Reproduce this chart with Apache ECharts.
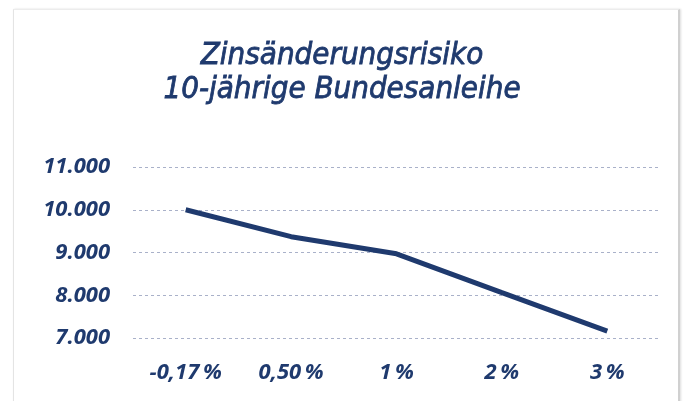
<!DOCTYPE html>
<html><head><meta charset="utf-8">
<script src="https://cdn.jsdelivr.net/npm/echarts@6/dist/echarts.min.js"></script>
<style>
html,body{margin:0;padding:0;background:#fff;width:684px;height:401px;overflow:hidden}
#frame{position:absolute;left:13px;top:9px;width:664px;height:420px;border-left:1px solid #e4e4e4;border-top:1px solid #ececec;border-right:2px solid #d0d0d0;box-shadow:1px 0 2px #ddd}
#c{position:absolute;left:0;top:0;width:684px;height:401px}
</style></head>
<body><div id="frame"></div><div id="c"></div>
<script>
const titleLines = ['Zinsänderungsrisiko', '10-jährige Bundesanleihe'];
const categories = ['-0,17%', '0,50%', '1%', '2%', '3%'];
const values = [10000, 9370, 8970, 8060, 7160];
const yMin = 7000, yMax = 11000, yStep = 1000;

const navy = '#1f3a6e';
const chart = echarts.init(document.getElementById('c'));
chart.setOption({
  animation: false,
  title: {
    text: titleLines.join('\n'),
    left: 'center', top: 34,
    textStyle: {fontFamily: 'DejaVu Sans Condensed', fontStyle: 'italic', fontWeight: 'normal', fontSize: 31, lineHeight: 34, color: navy,
      textBorderColor: navy, textBorderWidth: 0.8}
  },
  grid: {left: 133, right: 24, top: 167, bottom: 63},
  xAxis: {
    type: 'category', data: categories, boundaryGap: true,
    axisLine: {show: false}, axisTick: {show: false},
    axisLabel: {margin: 24, fontFamily: 'Open Sans', fontStyle: 'italic', fontWeight: 'bold', fontSize: 22, color: navy,
      formatter: v => v.replace('%', '\u2009%')}
  },
  yAxis: {
    type: 'value', min: yMin, max: yMax, interval: yStep,
    axisLine: {show: false}, axisTick: {show: false},
    axisLabel: {margin: 23, fontFamily: 'Open Sans', fontStyle: 'italic', fontWeight: 'bold', fontSize: 22, color: navy,
      formatter: v => v.toLocaleString('de-DE')},
    splitLine: {lineStyle: {type: [3, 3], color: '#a9b1c9', width: 1}}
  },
  series: [{
    type: 'line', data: values, symbol: 'none',
    lineStyle: {color: navy, width: 5}
  }]
});
</script></body></html>
